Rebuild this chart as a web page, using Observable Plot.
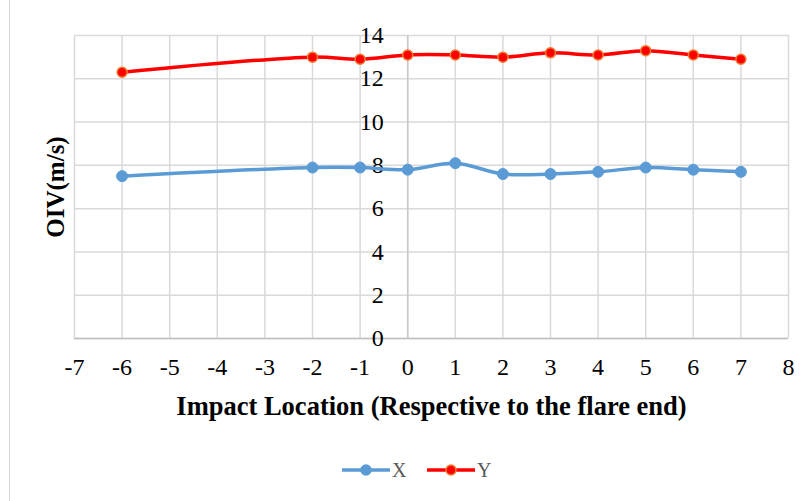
<!DOCTYPE html>
<html>
<head>
<meta charset="utf-8">
<script src="https://cdn.jsdelivr.net/npm/d3@7"></script>
<script src="https://cdn.jsdelivr.net/npm/@observablehq/plot@0.6"></script>
<style>
  html, body { margin: 0; padding: 0; background: #fff; }
  #wrap { position: relative; width: 809px; height: 501px; overflow: hidden; font-family: "Liberation Serif", "Times New Roman", serif; }
  #edge { position: absolute; left: 9px; top: 0; width: 1px; height: 501px; background: #d9d9d9; }
  #chart { position: absolute; left: 0; top: 0; }
  #legend { position: absolute; left: 0; top: 456px; width: 809px; height: 28px; }
  g[aria-label="x-axis label"] text { font-weight: bold; font-size: 26.5px; fill: #000; }
</style>
</head>
<body>
<div id="wrap">
  <div id="edge"></div>
  <div id="chart"></div>
  <svg id="legend" width="809" height="28"></svg>
</div>
<script>
// ---- data ----
const locations = [-6, -2, -1, 0, 1, 2, 3, 4, 5, 6, 7];
const xSeries = [7.5, 7.9, 7.9, 7.8, 8.1, 7.6, 7.6, 7.7, 7.9, 7.8, 7.7];
const ySeries = [12.3, 13.0, 12.9, 13.1, 13.1, 13.0, 13.2, 13.1, 13.3, 13.1, 12.9];
const xTicks = [-7, -6, -5, -4, -3, -2, -1, 0, 1, 2, 3, 4, 5, 6, 7, 8];
const yTicks = [0, 2, 4, 6, 8, 10, 12, 14];
const seriesNames = ["X", "Y"];
const xTitle = "Impact Location (Respective to the flare end)";
const yTitle = "OIV(m/s)";

const blue = "#5b9bd5", red = "#ff0000", orange = "#ed7d31";
const dataX = locations.map((loc, i) => ({loc, v: xSeries[i]}));
const dataY = locations.map((loc, i) => ({loc, v: ySeries[i]}));

const chart = Plot.plot({
  width: 809,
  height: 430,
  marginLeft: 74,
  marginRight: 21,
  marginTop: 35,
  marginBottom: 92,
  style: {fontFamily: "'Liberation Serif', 'Times New Roman', serif", fontSize: "24px", color: "#000", background: "transparent", overflow: "visible"},
  x: {domain: [-7, 8]},
  y: {domain: [0, 14], axis: null},
  marks: [
    Plot.gridX(xTicks, {stroke: "#d9d9d9", strokeOpacity: 1, strokeWidth: 1.5}),
    Plot.gridY(yTicks, {stroke: "#d9d9d9", strokeOpacity: 1, strokeWidth: 1.5}),
    Plot.ruleY([0], {stroke: "#bfbfbf", strokeWidth: 1.5}),
    Plot.ruleX([0], {stroke: "#c8c8c8", strokeWidth: 1.5}),
    Plot.axisX(xTicks, {tickSize: 0, tickPadding: 19, fontSize: 24, fill: "#000", tickFormat: d => String(d), label: xTitle, labelAnchor: "center", labelArrow: "none", labelOffset: 76}),
    Plot.text(yTicks, {x: () => 0, y: d => d, text: d => String(d), textAnchor: "end", dx: -24, fontSize: 24, fill: "#000"}),
    Plot.text([yTitle], {frameAnchor: "left", textAnchor: "middle", text: d => d, rotate: -90, dx: -19, fontSize: 25, fontWeight: "bold", fill: "#000"}),
    Plot.line(dataX, {x: "loc", y: "v", stroke: blue, strokeWidth: 3.5, curve: "catmull-rom"}),
    Plot.dot(dataX, {x: "loc", y: "v", r: 5.5, fill: blue, stroke: blue, strokeWidth: 1}),
    Plot.line(dataY, {x: "loc", y: "v", stroke: red, strokeWidth: 3.5, curve: "catmull-rom"}),
    Plot.dot(dataY, {x: "loc", y: "v", r: 5, fill: red, stroke: orange, strokeWidth: 1.5})
  ]
});
document.getElementById("chart").appendChild(chart);

// ---- legend ----
const leg = d3.select("#legend");
const items = [
  {name: seriesNames[0], color: blue, stroke: blue, x0: 342},
  {name: seriesNames[1], color: red, stroke: orange, x0: 427}
];
items.forEach(it => {
  leg.append("line").attr("x1", it.x0).attr("x2", it.x0 + 48).attr("y1", 14).attr("y2", 14)
    .attr("stroke", it.color).attr("stroke-width", 3.5);
  leg.append("circle").attr("cx", it.x0 + 24).attr("cy", 14).attr("r", 5)
    .attr("fill", it.color).attr("stroke", it.stroke).attr("stroke-width", 1.5);
  leg.append("text").attr("x", it.x0 + 50).attr("y", 14).attr("dy", "0.35em")
    .attr("font-family", "'Liberation Serif', 'Times New Roman', serif").attr("font-size", 20)
    .attr("fill", "#595959").text(it.name);
});
</script>
</body>
</html>
